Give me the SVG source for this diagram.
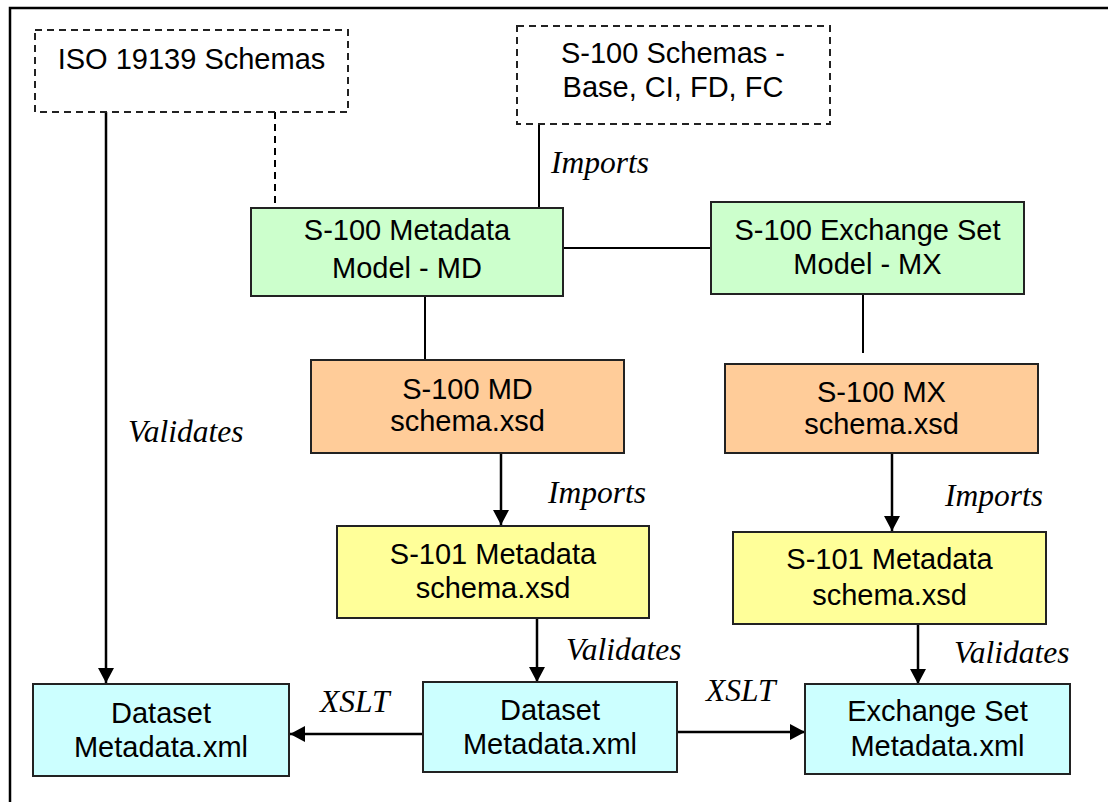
<svg xmlns="http://www.w3.org/2000/svg" width="1108" height="802" viewBox="0 0 1108 802">
<style>
.box{stroke:#222;stroke-width:2}
.dash{fill:#fff;stroke:#222;stroke-width:2;stroke-dasharray:7 5}
.green{fill:#CCFFCC}.orange{fill:#FFCC99}.yellow{fill:#FFFF99}.cyan{fill:#CCFFFF}
.t{font-family:"Liberation Sans",Arial,sans-serif;font-size:29px;fill:#000;text-anchor:middle}
.lbl{font-family:"Liberation Serif","Times New Roman",serif;font-style:italic;font-size:31.5px;fill:#000}
.ln{stroke:#000;stroke-width:2;fill:none}
.ar{stroke:#000;stroke-width:2.5;fill:none;marker-end:url(#ah)}
</style>
<defs>
<marker id="ah" markerUnits="userSpaceOnUse" markerWidth="16" markerHeight="16" refX="15" refY="8" orient="auto" viewBox="0 0 16 16">
<path d="M0,0 L15,8 L0,16 z" fill="#000"/>
</marker>
</defs>
<rect width="1108" height="802" fill="#fff"/>
<path d="M10,802 L10,8 L1108,8" fill="none" stroke="#000" stroke-width="2.5"/>
<g id="connectors">
<line class="ar" x1="106" y1="112" x2="106" y2="683"/>
<line class="ln" x1="275" y1="112" x2="275" y2="208" stroke-dasharray="7 5"/>
<line class="ln" x1="539" y1="124" x2="539" y2="208"/>
<line class="ln" x1="563" y1="248" x2="711" y2="248"/>
<line class="ln" x1="425" y1="296" x2="425" y2="360"/>
<line class="ln" x1="863" y1="290" x2="863" y2="353"/>
<line class="ar" x1="501" y1="453" x2="501" y2="525"/>
<line class="ar" x1="892" y1="453" x2="892" y2="531"/>
<line class="ar" x1="537" y1="618" x2="537" y2="682"/>
<line class="ar" x1="918" y1="624" x2="918" y2="684"/>
<line class="ar" x1="424" y1="734" x2="290" y2="734"/>
<line class="ar" x1="677" y1="732" x2="805" y2="732"/>
<text class="lbl" x="551" y="173">Imports</text>
<text class="lbl" x="128" y="442">Validates</text>
<text class="lbl" x="548" y="503">Imports</text>
<text class="lbl" x="945" y="506">Imports</text>
<text class="lbl" x="566" y="660">Validates</text>
<text class="lbl" x="954" y="663">Validates</text>
<text class="lbl" x="320" y="712">XSLT</text>
<text class="lbl" x="706" y="701">XSLT</text>
</g>
<g id="iso">
<rect class="dash" x="35" y="30" width="313" height="82"/>
<text class="t" x="191.5" y="69">ISO 19139 Schemas</text>
</g>
<g id="s100schemas">
<rect class="dash" x="517" y="26" width="313" height="98"/>
<text class="t" x="673" y="63">S-100 Schemas -</text>
<text class="t" x="673" y="97">Base, CI, FD, FC</text>
</g>
<g id="md">
<rect class="box green" x="251" y="208" width="312" height="88"/>
<text class="t" x="407" y="240">S-100 Metadata</text>
<text class="t" x="407" y="278">Model - MD</text>
</g>
<g id="mx">
<rect class="box green" x="711" y="202" width="313" height="92"/>
<text class="t" x="867.5" y="240">S-100 Exchange Set</text>
<text class="t" x="867.5" y="274">Model - MX</text>
</g>
<g id="mdschema">
<rect class="box orange" x="311" y="360" width="313" height="93"/>
<text class="t" x="467.5" y="399">S-100 MD</text>
<text class="t" x="467.5" y="431">schema.xsd</text>
</g>
<g id="mxschema">
<rect class="box orange" x="725" y="364" width="313" height="89"/>
<text class="t" x="881.5" y="402">S-100 MX</text>
<text class="t" x="881.5" y="434">schema.xsd</text>
</g>
<g id="s101left">
<rect class="box yellow" x="337" y="526" width="312" height="92"/>
<text class="t" x="493" y="564">S-101 Metadata</text>
<text class="t" x="493" y="598">schema.xsd</text>
</g>
<g id="s101right">
<rect class="box yellow" x="733" y="532" width="313" height="92"/>
<text class="t" x="889.5" y="569">S-101 Metadata</text>
<text class="t" x="889.5" y="605">schema.xsd</text>
</g>
<g id="datasetleft">
<rect class="box cyan" x="33" y="684" width="256" height="92"/>
<text class="t" x="161" y="723">Dataset</text>
<text class="t" x="161" y="757">Metadata.xml</text>
</g>
<g id="datasetmid">
<rect class="box cyan" x="423" y="682" width="254" height="90"/>
<text class="t" x="550" y="720">Dataset</text>
<text class="t" x="550" y="754">Metadata.xml</text>
</g>
<g id="exchange">
<rect class="box cyan" x="805" y="684" width="265" height="90"/>
<text class="t" x="937.5" y="721">Exchange Set</text>
<text class="t" x="937.5" y="756">Metadata.xml</text>
</g>
</svg>
